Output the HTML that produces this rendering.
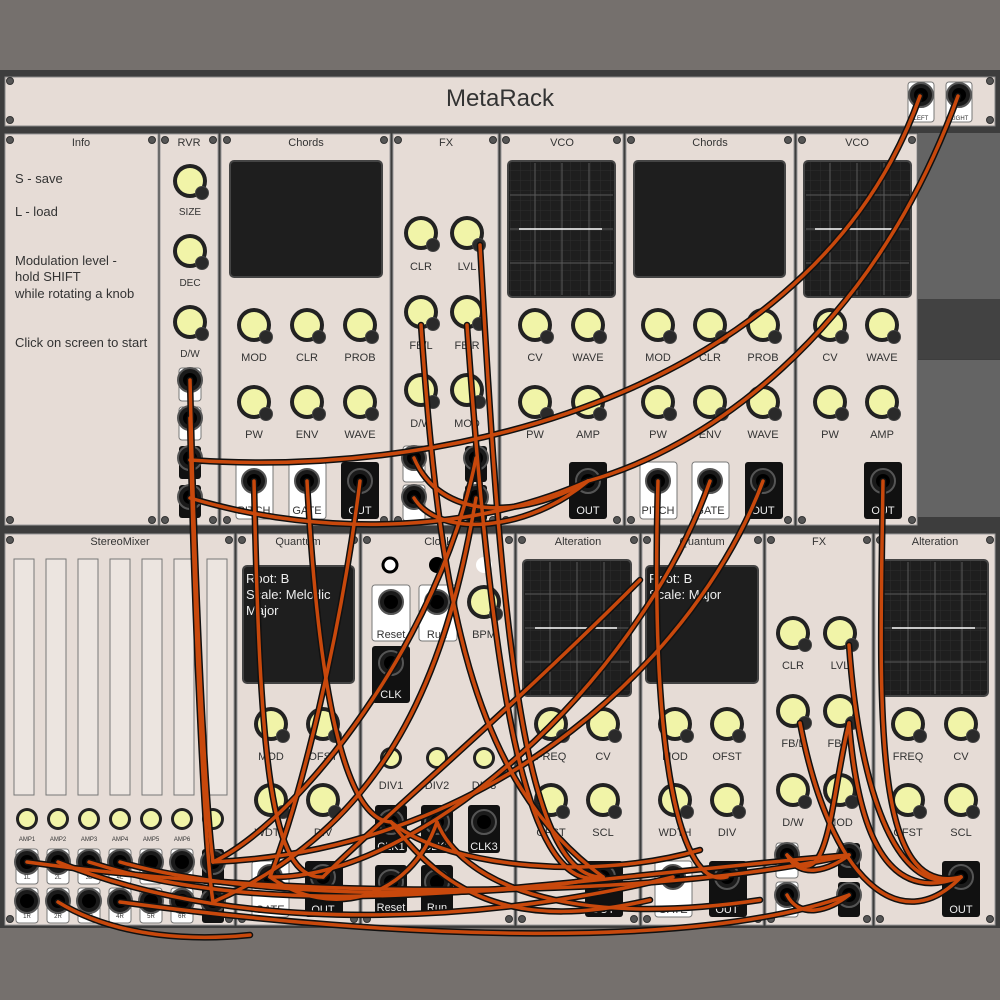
<!DOCTYPE html>
<html><head><meta charset="utf-8"><style>
html,body{margin:0;padding:0;background:#75706d;}
svg{display:block}
text{font-family:"Liberation Sans",sans-serif;fill:#333;text-anchor:middle}
</style></head><body>
<svg width="1000" height="1000" viewBox="0 0 1000 1000" xmlns="http://www.w3.org/2000/svg">
<defs>
<g id="k"><circle r="17" fill="#222"/><circle r="13" fill="#f1f4a8"/><circle cx="12" cy="12" r="6.5" fill="#2a2a2a" stroke="#444" stroke-width="1"/></g>
<g id="ks"><circle r="11" fill="#222"/><circle r="8" fill="#f1f4a8"/></g>
<g id="j"><circle r="12" fill="#1a1a1a" stroke="#555" stroke-width="2"/><circle r="7" fill="#000"/></g>
<g id="sc"><circle r="3.5" fill="#555" stroke="#333"/></g>
<pattern id="grid" width="10" height="10" patternUnits="userSpaceOnUse"><rect width="10" height="10" fill="#1e1e1e"/><path d="M10 0H0V10" fill="none" stroke="#2e2e2e" stroke-width="1"/></pattern>
<g id="cab" fill="none" stroke-linecap="round">
<path d="M920,96 C 820,380 470,480 190,460"/>
<path d="M958,96 C 870,340 700,450 588,481"/>
<path d="M190,498 C 330,540 480,530 588,481"/>
<path d="M414,458 C 440,520 520,520 588,481"/>
<path d="M414,498 C 440,540 530,530 588,481"/>
<path d="M190,380 C 195,600 205,800 213,862"/>
<path d="M190,418 C 195,640 205,850 213,902"/>
<path d="M254,481 C 260,760 270,880 323,877"/>
<path d="M307,481 C 320,720 350,820 391,822"/>
<path d="M360,481 C 340,640 300,800 270,877"/>
<path d="M476,458 C 440,640 300,820 213,862"/>
<path d="M476,498 C 450,650 400,820 213,902"/>
<path d="M480,245 C 500,600 520,880 603,877"/>
<path d="M467,325 C 490,650 520,900 603,877"/>
<path d="M421,325 C 440,600 470,780 603,877"/>
<path d="M658,481 C 650,760 680,890 727,877"/>
<path d="M710,481 C 640,680 420,880 270,877"/>
<path d="M763,481 C 700,650 500,850 213,862"/>
<path d="M883,481 C 880,700 870,900 961,877"/>
<path d="M849,645 C 860,800 900,900 961,877"/>
<path d="M800,723 C 830,880 900,940 961,877"/>
<path d="M849,723 C 830,800 830,900 787,855"/>
<path d="M849,723 C 860,860 900,900 961,877"/>
<path d="M849,855 C 650,900 300,900 27,862"/>
<path d="M849,895 C 700,950 400,940 120,902"/>
<path d="M787,855 C 800,880 830,870 849,855"/>
<path d="M787,895 C 800,920 830,910 849,895"/>
<path d="M58,862 C 250,940 500,920 673,877"/>
<path d="M89,862 C 300,930 550,880 849,855"/>
<path d="M120,862 C 250,900 500,900 603,877"/>
<path d="M58,902 C 120,940 200,940 250,935"/>
<path d="M391,822 C 450,900 520,930 650,900"/>
<path d="M391,822 C 450,870 600,880 700,850"/>
<path d="M437,822 C 410,900 330,920 270,877"/>
<path d="M437,822 C 460,880 560,930 760,900"/>
<path d="M323,877 C 380,820 500,720 640,580"/>
</g>
</defs>

<rect x="0" y="70" width="1000" height="858" fill="#3d3d3d"/>
<rect x="918" y="133" width="82" height="166" fill="#646464"/>
<rect x="918" y="299" width="82" height="60" fill="#424242"/>
<rect x="918" y="360" width="82" height="157" fill="#646464"/>

<!-- header -->
<rect x="5" y="77" width="990" height="49" fill="#e6dcd6" stroke="#888"/>
<text x="500" y="106" font-size="24" fill="#444">MetaRack</text>
<use href="#sc" x="10" y="81"/><use href="#sc" x="10" y="120"/><use href="#sc" x="990" y="81"/><use href="#sc" x="990" y="120"/>
<rect x="908" y="82" width="26" height="40" rx="3" fill="#fff" stroke="#777"/>
<rect x="946" y="82" width="26" height="40" rx="3" fill="#fff" stroke="#777"/>
<use href="#j" x="921" y="95"/><use href="#j" x="959" y="95"/>
<text x="921" y="120" font-size="6">LEFT</text><text x="959" y="120" font-size="6">RIGHT</text>

<g fill="#e6dcd6" stroke="#999">
<rect x="5" y="134" width="153" height="391"/>
<rect x="160" y="134" width="58" height="391"/>
<rect x="221" y="134" width="169" height="391"/>
<rect x="393" y="134" width="105" height="391"/>
<rect x="501" y="134" width="122" height="391"/>
<rect x="626" y="134" width="168" height="391"/>
<rect x="797" y="134" width="120" height="391"/>
<rect x="5" y="534" width="229" height="391"/>
<rect x="237" y="534" width="122" height="391"/>
<rect x="362" y="534" width="152" height="391"/>
<rect x="517" y="534" width="122" height="391"/>
<rect x="642" y="534" width="121" height="391"/>
<rect x="766" y="534" width="106" height="391"/>
<rect x="875" y="534" width="120" height="391"/>
</g>
<g>
<use href="#sc" x="10" y="140"/><use href="#sc" x="152" y="140"/><use href="#sc" x="10" y="520"/><use href="#sc" x="152" y="520"/>
<use href="#sc" x="165" y="140"/><use href="#sc" x="213" y="140"/><use href="#sc" x="165" y="520"/><use href="#sc" x="213" y="520"/>
<use href="#sc" x="227" y="140"/><use href="#sc" x="384" y="140"/><use href="#sc" x="227" y="520"/><use href="#sc" x="384" y="520"/>
<use href="#sc" x="398" y="140"/><use href="#sc" x="493" y="140"/><use href="#sc" x="398" y="520"/><use href="#sc" x="493" y="520"/>
<use href="#sc" x="506" y="140"/><use href="#sc" x="617" y="140"/><use href="#sc" x="506" y="520"/><use href="#sc" x="617" y="520"/>
<use href="#sc" x="631" y="140"/><use href="#sc" x="788" y="140"/><use href="#sc" x="631" y="520"/><use href="#sc" x="788" y="520"/>
<use href="#sc" x="802" y="140"/><use href="#sc" x="912" y="140"/><use href="#sc" x="802" y="520"/><use href="#sc" x="912" y="520"/>
<use href="#sc" x="10" y="540"/><use href="#sc" x="229" y="540"/><use href="#sc" x="10" y="919"/><use href="#sc" x="229" y="919"/>
<use href="#sc" x="242" y="540"/><use href="#sc" x="354" y="540"/><use href="#sc" x="242" y="919"/><use href="#sc" x="354" y="919"/>
<use href="#sc" x="367" y="540"/><use href="#sc" x="509" y="540"/><use href="#sc" x="367" y="919"/><use href="#sc" x="509" y="919"/>
<use href="#sc" x="522" y="540"/><use href="#sc" x="634" y="540"/><use href="#sc" x="522" y="919"/><use href="#sc" x="634" y="919"/>
<use href="#sc" x="647" y="540"/><use href="#sc" x="758" y="540"/><use href="#sc" x="647" y="919"/><use href="#sc" x="758" y="919"/>
<use href="#sc" x="771" y="540"/><use href="#sc" x="867" y="540"/><use href="#sc" x="771" y="919"/><use href="#sc" x="867" y="919"/>
<use href="#sc" x="880" y="540"/><use href="#sc" x="990" y="540"/><use href="#sc" x="880" y="919"/><use href="#sc" x="990" y="919"/>
</g>

<g font-size="11" fill="#555">
<text x="81" y="146" fill="#555">Info</text><text x="189" y="146" fill="#555">RVR</text><text x="306" y="146" fill="#555">Chords</text><text x="446" y="146" fill="#555">FX</text><text x="562" y="146" fill="#555">VCO</text><text x="710" y="146" fill="#555">Chords</text><text x="857" y="146" fill="#555">VCO</text>
<text x="120" y="545" fill="#555">StereoMixer</text><text x="298" y="545" fill="#555">Quantum</text><text x="438" y="545" fill="#555">Clock</text><text x="578" y="545" fill="#555">Alteration</text><text x="702" y="545" fill="#555">Quantum</text><text x="819" y="545" fill="#555">FX</text><text x="935" y="545" fill="#555">Alteration</text>
</g>

<g font-size="13" style="text-anchor:start">
<text x="15" y="183" style="text-anchor:start">S - save</text>
<text x="15" y="216" style="text-anchor:start">L - load</text>
<text x="15" y="265" style="text-anchor:start">Modulation level -</text>
<text x="15" y="281" style="text-anchor:start">hold SHIFT</text>
<text x="15" y="298" style="text-anchor:start">while rotating a knob</text>
<text x="15" y="347" style="text-anchor:start">Click on screen to start</text>
</g>

<use href="#k" x="190" y="181"/><use href="#k" x="190" y="251"/><use href="#k" x="190" y="322"/>
<g font-size="10"><text x="190" y="215">SIZE</text><text x="190" y="286">DEC</text><text x="190" y="357">D/W</text></g>
<rect x="179" y="368" width="22" height="33" rx="3" fill="#fff" stroke="#777"/>
<rect x="179" y="407" width="22" height="33" rx="3" fill="#fff" stroke="#777"/>
<rect x="179" y="446" width="22" height="33" rx="3" fill="#111"/>
<rect x="179" y="485" width="22" height="33" rx="3" fill="#111"/>
<use href="#j" x="190" y="380"/><use href="#j" x="190" y="418"/><use href="#j" x="190" y="458"/><use href="#j" x="190" y="497"/>

<rect x="230" y="161" width="152" height="116" rx="4" fill="#1e1e1e" stroke="#444" stroke-width="2"/>
<rect x="634" y="161" width="151" height="116" rx="4" fill="#1e1e1e" stroke="#444" stroke-width="2"/>
<g stroke="#444" stroke-width="2">
<rect x="508" y="161" width="107" height="136" rx="4" fill="url(#grid)"/>
<rect x="804" y="161" width="107" height="136" rx="4" fill="url(#grid)"/>
<rect x="523" y="560" width="108" height="136" rx="4" fill="url(#grid)"/>
<rect x="882" y="560" width="106" height="136" rx="4" fill="url(#grid)"/>
</g>
<g stroke="#5a5a5a" stroke-width="1">
<path d="M535,163V295M562,163V295M589,163V295M510,195H613M510,229H613M510,263H613"/>
<path d="M830,163V295M857,163V295M884,163V295M806,195H909M806,229H909M806,263H909"/>
<path d="M550,562V694M577,562V694M604,562V694M525,594H629M525,628H629M525,662H629"/>
<path d="M908,562V694M935,562V694M962,562V694M884,594H986M884,628H986M884,662H986"/>
</g>
<g stroke="#fff" stroke-width="1.5"><path d="M519,229H602M815,229H897M535,628H617M892,628H975"/></g>
<rect x="243" y="566" width="111" height="117" rx="4" fill="#1e1e1e" stroke="#444" stroke-width="2"/>
<rect x="646" y="566" width="112" height="117" rx="4" fill="#1e1e1e" stroke="#444" stroke-width="2"/>
<g font-size="13">
<text x="246" y="583" style="text-anchor:start;fill:#eee">Root: B</text>
<text x="246" y="599" style="text-anchor:start;fill:#eee">Scale: Melodic</text>
<text x="246" y="615" style="text-anchor:start;fill:#eee">Major</text>
<text x="649" y="583" style="text-anchor:start;fill:#eee">Root: B</text>
<text x="649" y="599" style="text-anchor:start;fill:#eee">Scale: Major</text>
</g>

<g>
<use href="#k" x="254" y="325"/><use href="#k" x="307" y="325"/><use href="#k" x="360" y="325"/>
<use href="#k" x="254" y="402"/><use href="#k" x="307" y="402"/><use href="#k" x="360" y="402"/>
<use href="#k" x="421" y="233"/><use href="#k" x="467" y="233"/><use href="#k" x="421" y="312"/><use href="#k" x="467" y="312"/><use href="#k" x="421" y="390"/><use href="#k" x="467" y="390"/>
<use href="#k" x="535" y="325"/><use href="#k" x="588" y="325"/><use href="#k" x="535" y="402"/><use href="#k" x="588" y="402"/>
<use href="#k" x="658" y="325"/><use href="#k" x="710" y="325"/><use href="#k" x="763" y="325"/>
<use href="#k" x="658" y="402"/><use href="#k" x="710" y="402"/><use href="#k" x="763" y="402"/>
<use href="#k" x="830" y="325"/><use href="#k" x="882" y="325"/><use href="#k" x="830" y="402"/><use href="#k" x="882" y="402"/>
</g>
<g font-size="11">
<text x="254" y="361">MOD</text><text x="307" y="361">CLR</text><text x="360" y="361">PROB</text>
<text x="254" y="438">PW</text><text x="307" y="438">ENV</text><text x="360" y="438">WAVE</text>
<text x="421" y="270">CLR</text><text x="467" y="270">LVL</text><text x="421" y="349">FB/L</text><text x="467" y="349">FB/R</text><text x="421" y="427">D/W</text><text x="467" y="427">MOD</text>
<text x="535" y="361">CV</text><text x="588" y="361">WAVE</text><text x="535" y="438">PW</text><text x="588" y="438">AMP</text>
<text x="658" y="361">MOD</text><text x="710" y="361">CLR</text><text x="763" y="361">PROB</text>
<text x="658" y="438">PW</text><text x="710" y="438">ENV</text><text x="763" y="438">WAVE</text>
<text x="830" y="361">CV</text><text x="882" y="361">WAVE</text><text x="830" y="438">PW</text><text x="882" y="438">AMP</text>
</g>
<rect x="236" y="462" width="37" height="57" rx="3" fill="#fff" stroke="#777"/>
<rect x="289" y="462" width="37" height="57" rx="3" fill="#fff" stroke="#777"/>
<rect x="341" y="462" width="38" height="57" rx="3" fill="#111"/>
<rect x="569" y="462" width="38" height="57" rx="3" fill="#111"/>
<rect x="640" y="462" width="37" height="57" rx="3" fill="#fff" stroke="#777"/>
<rect x="692" y="462" width="37" height="57" rx="3" fill="#fff" stroke="#777"/>
<rect x="745" y="462" width="38" height="57" rx="3" fill="#111"/>
<rect x="864" y="462" width="38" height="57" rx="3" fill="#111"/>
<rect x="403" y="446" width="22" height="36" rx="3" fill="#fff" stroke="#777"/>
<rect x="403" y="485" width="22" height="36" rx="3" fill="#fff" stroke="#777"/>
<rect x="465" y="446" width="22" height="36" rx="3" fill="#111"/>
<rect x="465" y="485" width="22" height="36" rx="3" fill="#111"/>
<use href="#j" x="254" y="481"/><use href="#j" x="307" y="481"/><use href="#j" x="360" y="481"/><use href="#j" x="588" y="481"/>
<use href="#j" x="658" y="481"/><use href="#j" x="710" y="481"/><use href="#j" x="763" y="481"/><use href="#j" x="883" y="481"/>
<use href="#j" x="414" y="458"/><use href="#j" x="414" y="497"/><use href="#j" x="476" y="458"/><use href="#j" x="476" y="497"/>
<g font-size="11">
<text x="254" y="514">PITCH</text><text x="307" y="514">GATE</text><text x="360" y="514" style="fill:#eee">OUT</text><text x="588" y="514" style="fill:#eee">OUT</text>
<text x="658" y="514">PITCH</text><text x="710" y="514">GATE</text><text x="763" y="514" style="fill:#eee">OUT</text><text x="883" y="514" style="fill:#eee">OUT</text>
</g>

<g fill="#ece5e0" stroke="#777">
<rect x="14" y="559" width="20" height="236"/><rect x="46" y="559" width="20" height="236"/><rect x="78" y="559" width="20" height="236"/><rect x="110" y="559" width="20" height="236"/><rect x="142" y="559" width="20" height="236"/><rect x="174" y="559" width="20" height="236"/><rect x="207" y="559" width="20" height="236"/>
</g>
<use href="#ks" x="27" y="819"/><use href="#ks" x="58" y="819"/><use href="#ks" x="89" y="819"/><use href="#ks" x="120" y="819"/><use href="#ks" x="151" y="819"/><use href="#ks" x="182" y="819"/><use href="#ks" x="213" y="819"/>
<g font-size="6"><text x="27" y="841">AMP1</text><text x="58" y="841">AMP2</text><text x="89" y="841">AMP3</text><text x="120" y="841">AMP4</text><text x="151" y="841">AMP5</text><text x="182" y="841">AMP6</text></g>
<g fill="#fff" stroke="#777">
<rect x="16" y="849" width="22" height="35" rx="3"/><rect x="47" y="849" width="22" height="35" rx="3"/><rect x="78" y="849" width="22" height="35" rx="3"/><rect x="109" y="849" width="22" height="35" rx="3"/><rect x="140" y="849" width="22" height="35" rx="3"/><rect x="171" y="849" width="22" height="35" rx="3"/>
<rect x="16" y="888" width="22" height="35" rx="3"/><rect x="47" y="888" width="22" height="35" rx="3"/><rect x="78" y="888" width="22" height="35" rx="3"/><rect x="109" y="888" width="22" height="35" rx="3"/><rect x="140" y="888" width="22" height="35" rx="3"/><rect x="171" y="888" width="22" height="35" rx="3"/>
</g>
<rect x="202" y="849" width="22" height="35" rx="3" fill="#111"/><rect x="202" y="888" width="22" height="35" rx="3" fill="#111"/>
<g><use href="#j" x="27" y="862"/><use href="#j" x="58" y="862"/><use href="#j" x="89" y="862"/><use href="#j" x="120" y="862"/><use href="#j" x="151" y="862"/><use href="#j" x="182" y="862"/><use href="#j" x="213" y="862"/>
<use href="#j" x="27" y="901"/><use href="#j" x="58" y="901"/><use href="#j" x="89" y="901"/><use href="#j" x="120" y="901"/><use href="#j" x="151" y="901"/><use href="#j" x="182" y="901"/><use href="#j" x="213" y="901"/></g>
<g font-size="6"><text x="27" y="879">1L</text><text x="58" y="879">2L</text><text x="89" y="879">3L</text><text x="120" y="879">4L</text><text x="151" y="879">5L</text><text x="182" y="879">6L</text>
<text x="27" y="918">1R</text><text x="58" y="918">2R</text><text x="89" y="918">3R</text><text x="120" y="918">4R</text><text x="151" y="918">5R</text><text x="182" y="918">6R</text></g>

<g>
<use href="#k" x="271" y="724"/><use href="#k" x="323" y="724"/><use href="#k" x="271" y="800"/><use href="#k" x="323" y="800"/>
<use href="#k" x="484" y="602"/>
<use href="#ks" x="391" y="758"/><use href="#ks" x="437" y="758"/><use href="#ks" x="484" y="758"/>
<use href="#k" x="551" y="724"/><use href="#k" x="603" y="724"/><use href="#k" x="551" y="800"/><use href="#k" x="603" y="800"/>
<use href="#k" x="675" y="724"/><use href="#k" x="727" y="724"/><use href="#k" x="675" y="800"/><use href="#k" x="727" y="800"/>
<use href="#k" x="793" y="633"/><use href="#k" x="840" y="633"/><use href="#k" x="793" y="711"/><use href="#k" x="840" y="711"/><use href="#k" x="793" y="790"/><use href="#k" x="840" y="790"/>
<use href="#k" x="908" y="724"/><use href="#k" x="961" y="724"/><use href="#k" x="908" y="800"/><use href="#k" x="961" y="800"/>
</g>
<g font-size="11">
<text x="271" y="760">MOD</text><text x="323" y="760">OFST</text><text x="271" y="836">WDTH</text><text x="323" y="836">DIV</text>
<text x="484" y="638">BPM</text><text x="391" y="789">DIV1</text><text x="437" y="789">DIV2</text><text x="484" y="789">DIV3</text>
<text x="551" y="760">FREQ</text><text x="603" y="760">CV</text><text x="551" y="836">OFST</text><text x="603" y="836">SCL</text>
<text x="675" y="760">MOD</text><text x="727" y="760">OFST</text><text x="675" y="836">WDTH</text><text x="727" y="836">DIV</text>
<text x="793" y="669">CLR</text><text x="840" y="669">LVL</text><text x="793" y="747">FB/L</text><text x="840" y="747">FB/R</text><text x="793" y="826">D/W</text><text x="840" y="826">MOD</text>
<text x="908" y="760">FREQ</text><text x="961" y="760">CV</text><text x="908" y="836">OFST</text><text x="961" y="836">SCL</text>
</g>
<circle cx="390" cy="565" r="7" fill="#fff" stroke="#000" stroke-width="3"/>
<circle cx="437" cy="565" r="8" fill="#000"/>
<circle cx="484" cy="565" r="8" fill="#fff"/>
<rect x="372" y="585" width="38" height="56" rx="3" fill="#fff" stroke="#777"/>
<rect x="419" y="585" width="38" height="56" rx="3" fill="#fff" stroke="#777"/>
<rect x="372" y="646" width="38" height="57" rx="3" fill="#111"/>
<rect x="375" y="805" width="32" height="48" rx="3" fill="#111"/><rect x="421" y="805" width="32" height="48" rx="3" fill="#111"/><rect x="468" y="805" width="32" height="48" rx="3" fill="#111"/>
<rect x="375" y="865" width="32" height="50" rx="3" fill="#111"/><rect x="421" y="865" width="32" height="50" rx="3" fill="#111"/>
<use href="#j" x="391" y="602"/><use href="#j" x="437" y="602"/><use href="#j" x="391" y="663"/>
<use href="#j" x="391" y="822"/><use href="#j" x="437" y="822"/><use href="#j" x="484" y="822"/><use href="#j" x="391" y="882"/><use href="#j" x="437" y="882"/>
<g font-size="11"><text x="391" y="638">Reset</text><text x="437" y="638">Run</text><text x="391" y="698" style="fill:#eee">CLK</text>
<text x="391" y="850" style="fill:#eee">CLK1</text><text x="437" y="850" style="fill:#eee">CLK2</text><text x="484" y="850" style="fill:#eee">CLK3</text>
<text x="391" y="911" style="fill:#eee">Reset</text><text x="437" y="911" style="fill:#eee">Run</text></g>
<rect x="252" y="861" width="37" height="56" rx="3" fill="#fff" stroke="#777"/>
<rect x="305" y="861" width="38" height="56" rx="3" fill="#111"/>
<rect x="585" y="861" width="38" height="56" rx="3" fill="#111"/>
<rect x="655" y="861" width="37" height="56" rx="3" fill="#fff" stroke="#777"/>
<rect x="709" y="861" width="38" height="56" rx="3" fill="#111"/>
<rect x="942" y="861" width="38" height="56" rx="3" fill="#111"/>
<rect x="776" y="843" width="22" height="35" rx="3" fill="#fff" stroke="#777"/>
<rect x="776" y="882" width="22" height="35" rx="3" fill="#fff" stroke="#777"/>
<rect x="838" y="843" width="22" height="35" rx="3" fill="#111"/>
<rect x="838" y="882" width="22" height="35" rx="3" fill="#111"/>
<use href="#j" x="270" y="877"/><use href="#j" x="323" y="877"/><use href="#j" x="603" y="877"/><use href="#j" x="673" y="877"/><use href="#j" x="727" y="877"/><use href="#j" x="961" y="877"/>
<use href="#j" x="787" y="855"/><use href="#j" x="787" y="895"/><use href="#j" x="849" y="855"/><use href="#j" x="849" y="895"/>
<g font-size="11"><text x="270" y="913">GATE</text><text x="323" y="913" style="fill:#eee">OUT</text><text x="603" y="913" style="fill:#eee">OUT</text>
<text x="673" y="913">GATE</text><text x="727" y="913" style="fill:#eee">OUT</text><text x="961" y="913" style="fill:#eee">OUT</text></g>

<use href="#cab" stroke="#111" stroke-width="6.5"/>
<use href="#cab" stroke="#c8480c" stroke-width="3.5"/>
</svg>
</body></html>
